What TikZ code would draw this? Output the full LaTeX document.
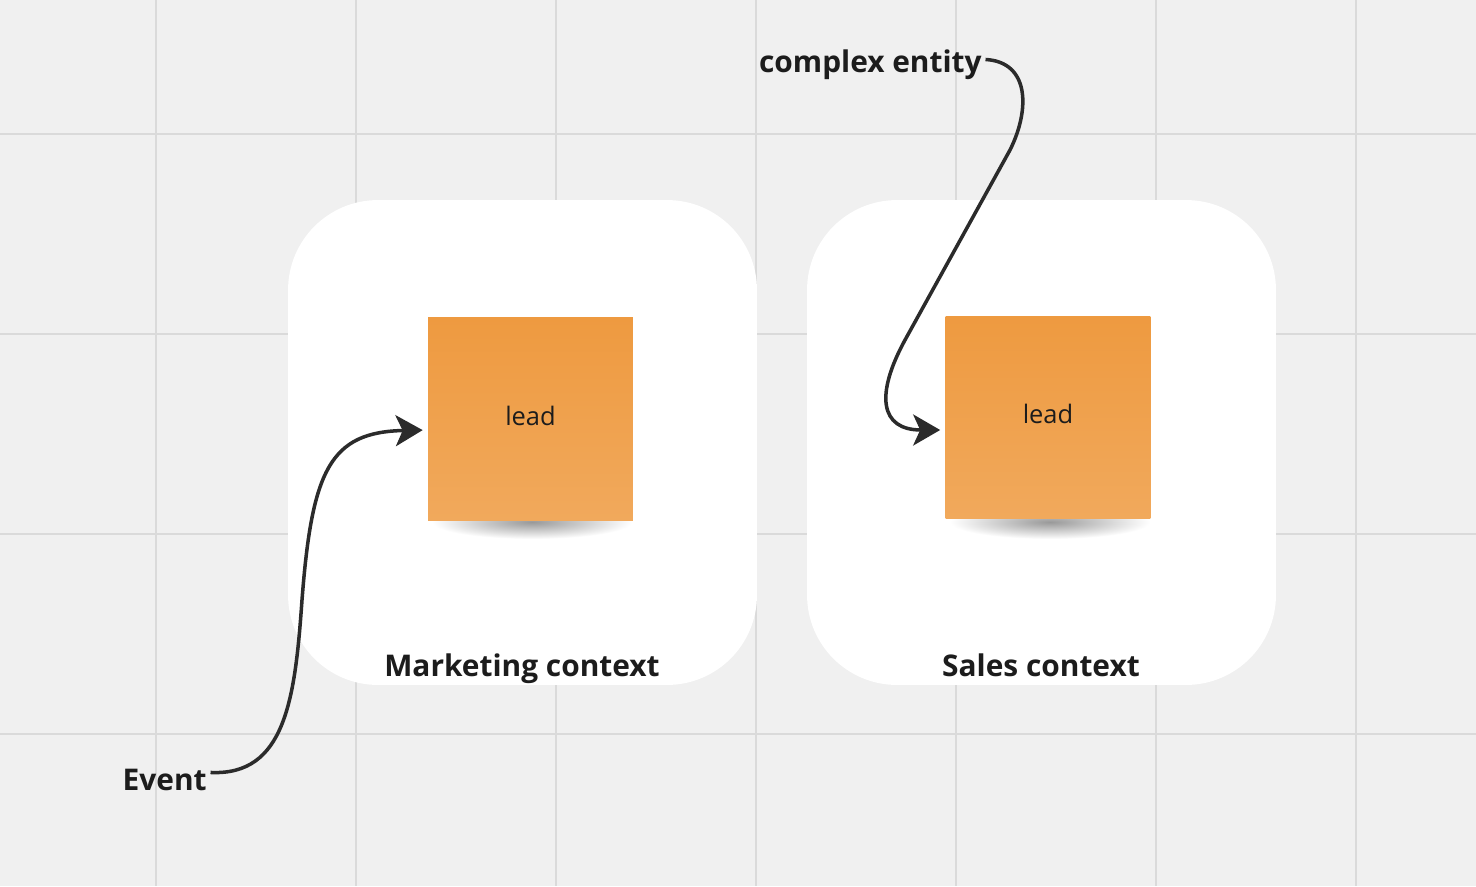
\documentclass[tikz,border=0pt]{standalone}
\usepackage{fontspec}
\setmainfont{Open Sans}
\usetikzlibrary{arrows.meta}
\definecolor{board}{HTML}{F0F0F0}
\definecolor{gridc}{HTML}{DADADA}
\definecolor{notetop}{HTML}{EE9A40}
\definecolor{notebot}{HTML}{F1A95C}
\definecolor{ink}{HTML}{1C1C1C}
\definecolor{wire}{HTML}{2B2B2B}
\begin{document}
\begin{tikzpicture}[x=0.02cm,y=-0.02cm,
	gridline/.style={gridc,line width=0.8pt},
	ctx/.style={fill=white,rounded corners=1.8cm,minimum width=9.38cm,minimum height=9.7cm,inner sep=0pt},
	sticky/.style={top color=notetop,bottom color=notebot,minimum width=4.1cm,minimum height=4.05cm,inner sep=0pt,text height=11pt,text depth=4pt,font=\fontsize{14.5}{17}\selectfont,text=ink},
	tag/.style={font=\fontsize{17}{20}\selectfont\bfseries,text=ink,inner sep=0pt},
	link/.style={wire,line width=2pt,-{Stealth[length=0.54cm,width=0.62cm,inset=0.14cm]},shorten >=0.1cm}]
	\useasboundingbox (0,0) rectangle (1476,886);
	\fill[board] (0,0) rectangle (1476,886);
	\foreach \x in {156,356,...,1356}\draw[gridline] (\x,0)--(\x,886);
	\foreach \y in {134,334,534,734}\draw[gridline] (0,\y)--(1476,\y);
	\node[ctx] (mc) at (522.5,442.5) {};
	\node[ctx] (sc) at (1041.5,442.5) {};
	\foreach \x in {532,1050}\shade[inner color=black!40,outer color=white] (\x,522) ellipse (100 and 17);
	\node[sticky] (lm) at (530.5,419) {lead};
	\node[sticky] (ls) at (1048,417.5) {lead};
	\path (522,676) node[tag,anchor=base] (mct){Marketing context} (1041,676) node[tag,anchor=base] (sct){Sales context};
	\node[tag,anchor=base east] (ev) at (207,790) {Event};
	\node[tag,anchor=base east] (ce) at (982,72.5) {complex entity};
	\draw[link] ([xshift=2pt,yshift=4pt]ev.east) .. controls (285,776) and (295,700) .. (302,600) .. controls (312,470) and (330,432) .. ([yshift=-0.22cm]lm.west);
	\draw[link] ([xshift=2pt,yshift=3pt]ce.east) .. controls (1030,62) and (1030,110) .. (1010,150) -- (905,340) .. controls (875,395) and (880,430) .. ([yshift=-0.25cm]ls.west);
\end{tikzpicture}
\end{document}
